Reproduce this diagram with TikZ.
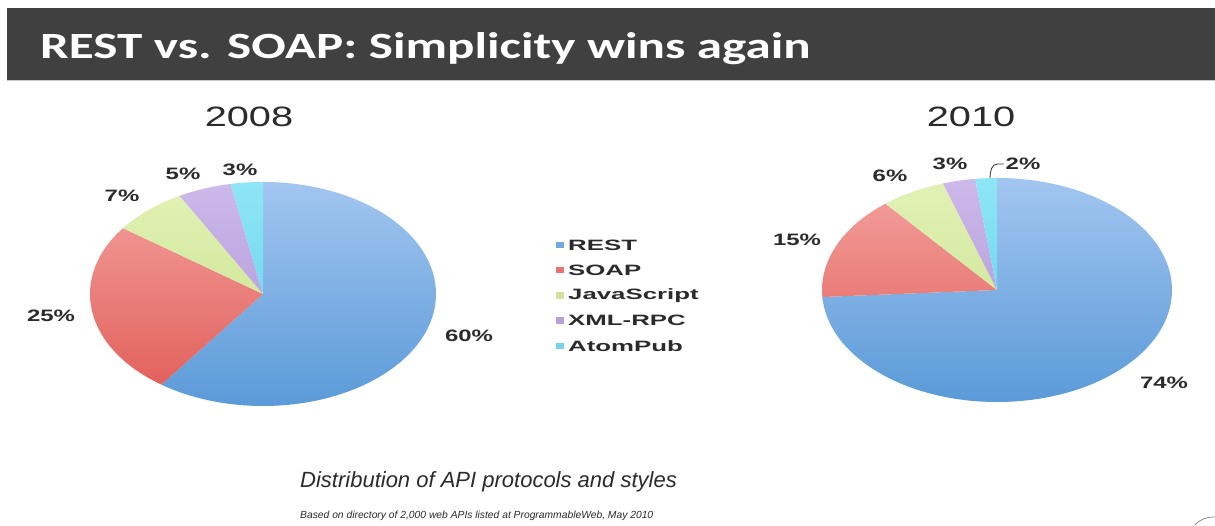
\documentclass[tikz,border=0pt]{standalone}
\usepackage{fontspec}
\setmainfont{Liberation Sans}
\newfontfamily\titlefont[FakeStretch=1.38]{Carlito}
\newfontfamily\yearfont[FakeStretch=1.42]{Liberation Sans}
\newfontfamily\pctfont[FakeStretch=1.45]{Liberation Sans}
\newfontfamily\legfont[FakeStretch=1.72]{Liberation Sans}
\definecolor{band}{HTML}{404040}
\definecolor{txt}{HTML}{2B2B2B}
\definecolor{restT}{HTML}{A3C6F0}\definecolor{restB}{HTML}{5A9AD8}
\definecolor{soapT}{HTML}{F4A3A0}\definecolor{soapB}{HTML}{E05A55}
\definecolor{jsT}{HTML}{E2F2B6}\definecolor{jsB}{HTML}{C6DF88}
\definecolor{xmlT}{HTML}{CDB9EA}\definecolor{xmlB}{HTML}{A890D4}
\definecolor{atomT}{HTML}{8EE6F6}\definecolor{atomB}{HTML}{5CCDE8}
\newcommand\myslice[8]{%
  \begin{scope}
    \clip (#1,#2) -- ({#1+#3*cos(#5)},{#2+#4*sin(#5)}) arc[start angle=#5,end angle=#6,x radius=#3,y radius=#4] -- cycle;
    \shade[top color=#7,bottom color=#8] (#1-#3-2,#2-#4-2) rectangle (#1+#3+2,#2+#4+2);
  \end{scope}}
\begin{document}
\begin{tikzpicture}[x=1pt,y=1pt,
  pct/.style={font=\pctfont\bfseries\fontsize{16.5}{18}\selectfont,text=txt,inner sep=0pt},
  yr/.style={font=\yearfont\fontsize{28}{30}\selectfont,text=txt,inner sep=0pt},
  leg/.style={font=\legfont\bfseries\fontsize{15}{17}\selectfont,text=txt,inner sep=0pt,anchor=west},
  sw/.style={minimum width=8.5pt,minimum height=6.5pt,inner sep=0pt}]
\useasboundingbox (0,0) rectangle (1215,526);
\fill[white] (0,0) rectangle (1215,526);
% title band
\fill[band] (7,446) rectangle (1215,518);
\draw[black!22,line width=1.2pt] (7,445.4) -- (1215,445.4);
\node[anchor=base west,inner sep=0pt,text=white,font=\titlefont\bfseries\fontsize{37}{40}\selectfont] (title) at (40,467) {REST vs. SOAP: Simplicity wins again};
% years
\node[yr] (y2008) at (249,409) {2008};
\node[yr] (y2010) at (971,409) {2010};
% left pie 2008
\myslice{263}{232}{173}{112}{90}{-126}{restT}{restB}
\myslice{263}{232}{173}{112}{-126}{-216}{soapT}{soapB}
\myslice{263}{232}{173}{112}{-216}{-241.2}{jsT}{jsB}
\myslice{263}{232}{173}{112}{-241.2}{-259.2}{xmlT}{xmlB}
\myslice{263}{232}{173}{112}{-259.2}{-270}{atomT}{atomB}
% right pie 2010
\myslice{997}{236}{175}{112}{90}{-176.4}{restT}{restB}
\myslice{997}{236}{175}{112}{-176.4}{-230.4}{soapT}{soapB}
\myslice{997}{236}{175}{112}{-230.4}{-252}{jsT}{jsB}
\myslice{997}{236}{175}{112}{-252}{-262.8}{xmlT}{xmlB}
\myslice{997}{236}{175}{112}{-262.8}{-270}{atomT}{atomB}
% percent labels 2008
\node[pct] (a7) at (122,330) {7\%};
\node[pct] (a5) at (183,352) {5\%};
\node[pct] (a3) at (240,356) {3\%};
\node[pct] (a25) at (51,210) {25\%};
\node[pct] (a60) at (469,190) {60\%};
% percent labels 2010
\node[pct] (b15) at (797,286) {15\%};
\node[pct] (b6) at (890,350) {6\%};
\node[pct] (b3) at (950,362) {3\%};
\node[pct] (b2) at (1023,362) {2\%};
\node[pct] (b74) at (1164,143) {74\%};
\coordinate (b2tip) at (990,348);
\draw[txt,line width=0.8pt] (b2.west) ++(-2,0) coordinate (b2s) -- ++(-6,0) to[out=180,in=90] (b2tip);
% legend
\foreach \i/\t/\c [count=\n] in {0/REST/restB,1/SOAP/soapB,2/JavaScript/jsB,3/XML-RPC/xmlB,4/AtomPub/atomB}{
  \node[sw,fill=\c!85] (sq\n) at (560,{281-25.2*\i}) {};
  \node[leg] (lg\n) at (568,{281-25.2*\i}) {\t};
}
% bottom texts
\node[anchor=base west,inner sep=0pt,text=txt,font=\itshape\fontsize{22}{24}\selectfont] (cap) at (300,38) {Distribution of API protocols and styles};
\node[anchor=base west,inner sep=0pt,text=txt,font=\itshape\fontsize{10.3}{12}\selectfont] (sub) at (300,7) {Based on directory of 2,000 web APIs listed at ProgrammableWeb, May 2010};
% cut-off logo corner
\draw[black!45,line width=0.8pt] (1195,1) .. controls (1200,7) and (1207,9) .. (1215,9);
\end{tikzpicture}
\end{document}
